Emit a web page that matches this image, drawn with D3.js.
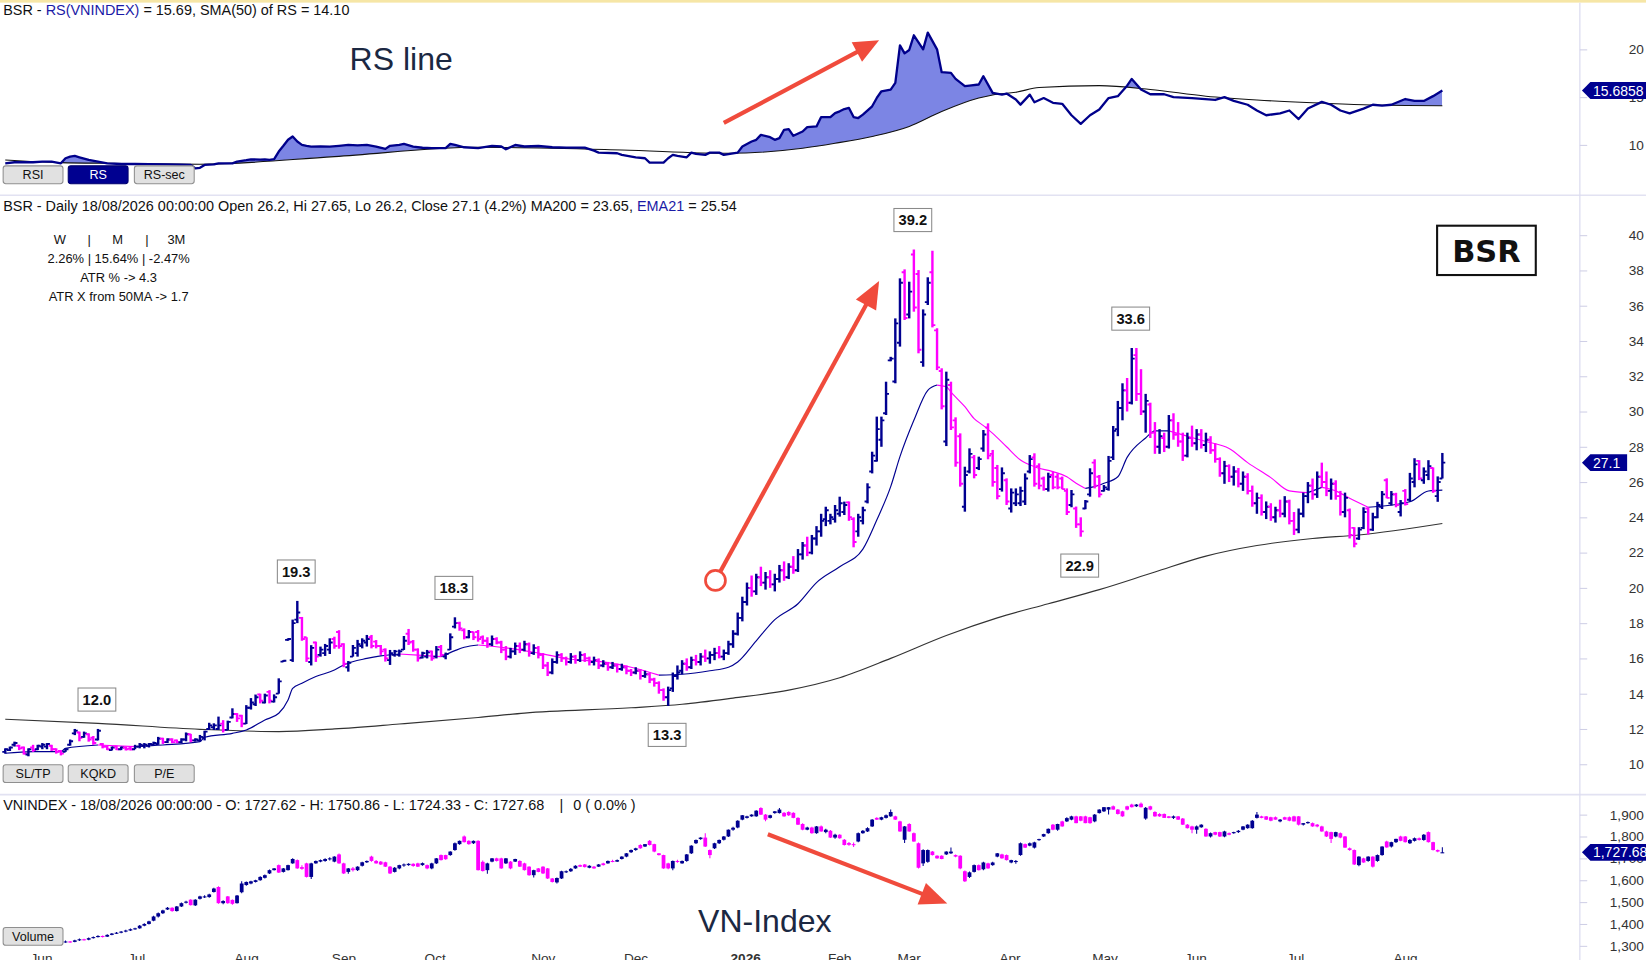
<!DOCTYPE html>
<html><head><meta charset="utf-8">
<script src="https://cdn.jsdelivr.net/npm/d3@7"></script>
<style>
html,body{margin:0;padding:0;background:#fff;overflow:hidden}
svg{display:block;font-family:"Liberation Sans",Arial,sans-serif}
</style></head><body>
<svg id="c" width="1646" height="960" viewBox="0 0 1568 914.5"></svg>
<script>
// ---------------- DATA ----------------
// BSR daily bars [open, high, low, close], 26/05/2025 .. 18/08/2026
const bsrBars = [
[10.7,10.9,10.6,10.85],[10.8,11.0,10.75,10.95],[11.1,11.28,11.0,11.2],[11.05,11.1,10.8,10.9],[10.95,11.0,10.55,10.6],
[10.55,10.9,10.45,10.85],[10.95,11.1,10.7,10.8],[10.85,11.1,10.8,11.05],[11.0,11.2,10.85,11.1],[11.0,11.2,10.85,11.15],
[11.05,11.1,10.75,10.85],[10.85,10.9,10.6,10.7],[10.75,10.8,10.5,10.6],[10.7,10.9,10.7,10.85],[11.1,11.4,11.05,11.3],
[11.75,12.0,11.65,11.9],[11.8,11.85,11.3,11.5],[11.55,11.85,11.5,11.75],[11.7,11.75,11.28,11.4],[11.5,11.6,11.1,11.2],
[11.4,12.0,11.35,11.9],[11.15,11.2,10.9,11.0],[11.0,11.05,10.8,10.85],[10.8,11.0,10.78,10.95],[11.0,11.05,10.8,10.85],
[10.85,11.0,10.8,10.95],[10.95,11.0,10.78,10.85],[10.9,11.0,10.78,10.85],[10.85,11.1,10.85,11.0],[11.0,11.2,10.9,11.1],
[11.05,11.2,10.9,11.1],[11.05,11.2,10.95,11.15],[11.1,11.28,11.05,11.2],[11.15,11.55,11.1,11.45],[11.45,11.5,11.15,11.25],
[11.25,11.47,11.2,11.4],[11.4,11.47,11.19,11.25],[11.35,11.4,11.19,11.25],[11.25,11.47,11.2,11.4],[11.4,11.8,11.3,11.7],
[11.7,11.72,11.25,11.35],[11.35,11.47,11.28,11.4],[11.35,11.66,11.28,11.55],[11.5,11.9,11.35,11.85],[12.0,12.35,11.95,12.2],
[12.1,12.32,11.94,12.2],[12.0,12.7,11.95,12.2],[12.3,12.5,11.8,11.95],[11.95,12.47,11.94,12.4],[12.65,13.17,12.6,12.85],
[12.85,12.9,12.4,12.6],[12.75,12.8,12.1,12.3],[12.3,13.35,12.28,13.2],[13.2,13.75,13.1,13.5],[13.4,13.95,13.3,13.8],
[13.95,14.0,13.45,13.6],[13.5,14.0,13.45,13.9],[14.1,14.2,13.45,13.6],[13.55,13.96,13.5,13.8],[14.0,14.87,14.0,14.7],
[15.82,15.9,15.8,15.87],[17.05,17.14,17.0,17.1],[15.9,18.2,15.8,18.0],[18.2,19.26,18.0,18.6],[18.3,18.35,17.0,17.1],
[17.2,17.2,15.8,16.0],[15.8,16.75,15.6,16.6],[16.9,16.95,15.8,16.1],[16.2,16.67,16.1,16.5],[16.3,16.82,16.14,16.7],
[16.5,17.14,16.25,16.9],[17.1,17.23,16.55,16.7],[17.5,17.6,16.55,16.7],[16.8,16.86,15.5,15.7],[15.5,15.85,15.25,15.75],
[16.1,16.76,16.1,16.6],[16.3,17.05,16.1,16.8],[16.7,17.14,16.57,17.0],[16.9,17.33,16.67,17.1],[17.2,17.33,16.57,16.7],
[16.95,17.04,16.57,16.7],[16.7,16.76,16.2,16.4],[16.5,16.57,15.82,16.0],[15.9,16.48,15.63,16.3],[16.2,16.48,16.1,16.4],
[16.2,16.5,16.1,16.4],[16.5,17.27,16.48,17.0],[17.4,17.67,16.76,16.9],[16.95,17.04,16.38,16.5],[16.5,16.57,15.82,16.0],
[16.05,16.38,16.0,16.3],[16.1,16.48,16.0,16.35],[16.4,16.44,15.87,16.0],[16.1,16.7,16.0,16.5],[16.65,16.76,16.1,16.2],
[16.1,16.33,15.95,16.25],[16.5,17.42,16.48,17.2],[17.8,18.33,17.7,18.0],[18.0,18.08,17.57,17.7],[17.6,17.7,17.08,17.2],
[17.2,17.61,17.14,17.5],[17.5,17.52,17.04,17.2],[17.5,17.61,16.95,17.1],
[17.2,17.3,16.8,17.0],[17.0,17.2,16.6,16.8],[16.8,17.3,16.7,17.1],[17.1,17.2,16.8,16.9],[16.9,17.0,16.3,16.5],
[16.5,16.7,15.9,16.1],[16.1,16.6,16.0,16.4],[16.4,16.9,16.2,16.7],[16.7,16.9,16.3,16.5],[16.5,17.0,16.4,16.8],
[16.8,16.9,16.1,16.3],[16.3,16.8,16.2,16.6],[16.6,16.7,16.0,16.2],[16.2,16.3,15.4,15.6],[15.6,15.8,15.0,15.2],
[15.2,16.0,15.1,15.8],[15.8,16.4,15.7,16.2],[16.2,16.3,15.8,16.0],[16.0,16.1,15.6,15.8],[15.8,16.3,15.7,16.1],
[16.1,16.2,15.7,15.9],[15.9,16.4,15.8,16.2],[16.2,16.3,15.8,16.0],[16.0,16.1,15.6,15.8],[15.8,16.1,15.6,15.9],
[15.9,16.0,15.4,15.6],[15.6,15.9,15.5,15.7],[15.7,15.8,15.3,15.5],[15.5,15.8,15.4,15.6],[15.6,15.7,15.2,15.4],
[15.4,15.7,15.3,15.5],[15.5,15.6,15.1,15.3],[15.3,15.4,15.0,15.2],[15.2,15.5,15.1,15.3],[15.3,15.4,14.8,15.0],
[15.0,15.3,14.9,15.1],[15.1,15.2,14.6,14.8],[14.8,14.9,14.4,14.6],[14.6,14.7,14.0,14.2],[14.2,14.3,13.6,13.8],
[13.8,14.4,13.3,14.2],
[14.3,15.2,14.1,15.0],[15.0,15.6,14.8,15.2],[15.3,15.9,15.1,15.7],[15.7,16.0,15.3,15.5],[15.5,16.1,15.4,15.9],
[15.9,16.2,15.6,15.8],[15.8,16.3,15.6,16.1],[16.1,16.5,15.8,16.0],[16.0,16.4,15.7,16.2],[16.2,16.6,15.9,16.3],
[16.3,16.7,16.0,16.1],[16.1,16.5,15.9,16.3],[16.3,17.0,16.2,16.8],[16.8,17.6,16.6,17.4],[17.4,18.6,17.3,18.3],
[18.3,19.5,18.1,19.2],[19.2,20.3,19.0,20.0],[20.0,20.7,19.5,19.8],[19.8,20.8,19.6,20.6],[20.6,21.2,20.1,20.3],
[20.3,20.9,19.9,20.6],[20.6,21.0,20.0,20.2],[20.2,20.8,19.8,20.5],[20.5,21.3,20.3,21.0],[21.0,21.5,20.4,20.6],
[20.6,21.4,20.5,21.2],[21.2,21.8,20.8,21.0],[21.0,22.2,20.9,21.9],[21.9,22.6,21.6,22.4],[22.4,22.9,21.8,22.0],
[22.0,23.0,21.9,22.8],[22.8,23.5,22.4,23.2],[23.2,24.2,22.9,23.8],
[23.9,24.6,23.5,24.4],[23.8,24.2,23.6,24.0],[23.9,24.7,23.7,24.4],[24.2,25.17,24.04,24.8],[24.3,24.89,24.13,24.7],
[24.85,24.9,23.8,24.0],[23.9,24.0,22.3,22.6],[23.2,24.2,22.9,24.0],[23.8,24.6,23.6,24.4],[24.9,25.93,24.79,25.7],
[26.6,27.72,26.49,27.5],[27.2,29.71,27.16,29.0],[28.4,29.71,28.0,29.5],[29.9,31.69,29.8,31.0],[32.9,33.1,32.85,33.0],
[31.7,35.28,31.6,35.0],[33.9,37.55,33.68,37.3],[37.9,38.06,35.19,35.3],[35.5,37.36,35.28,36.8],[38.9,39.19,35.66,35.9],
[37.8,38.02,33.3,33.5],[32.8,35.79,32.54,35.5],[36.2,37.61,36.04,37.3],[37.9,39.12,34.77,34.9],[34.6,34.72,32.35,32.5],
[32.3,32.45,30.12,30.3],[28.3,32.26,28.04,31.8],[31.5,31.69,28.95,29.1],[29.5,29.67,26.87,27.1],[28.6,28.76,25.74,25.9],
[24.6,26.87,24.32,26.4],[26.6,27.91,26.49,27.6],[27.4,27.53,26.21,26.4],[26.8,27.44,26.68,27.3],[27.9,28.95,27.72,28.7],
[29.1,29.33,27.29,27.5],[27.6,27.82,25.74,26.0],[26.8,26.97,25.02,25.2],[25.6,26.83,25.46,26.5],[26.1,26.21,24.7,24.9],
[24.5,25.64,24.27,25.4],[24.8,25.64,24.64,25.3],[24.8,25.74,24.64,25.5],[24.9,26.49,24.7,26.2],[26.6,27.53,26.49,27.3],
[27.4,27.63,25.74,25.9],[26.9,27.06,25.59,25.8],[26.2,26.31,25.51,25.6],[25.6,26.53,25.46,26.3],[26.4,26.59,25.59,25.7],
[26.3,26.49,25.59,25.7],[26.2,26.31,25.59,25.6],[25.5,25.64,24.13,24.3],[24.7,25.55,24.57,25.3],[24.5,24.61,23.4,23.6],
[23.6,24.0,22.9,23.2],[24.5,24.98,24.46,24.9],[25.3,26.78,25.17,26.5],[27.1,27.29,25.64,25.8],[26.3,26.4,25.13,25.3],
[25.5,25.83,25.46,25.7],[25.6,27.48,25.51,27.2],[27.4,29.18,27.25,28.9],
[29.0,30.6,28.6,30.2],[30.2,31.6,29.5,31.2],[31.2,31.9,30.0,30.5],[30.5,33.6,30.4,33.0],[33.2,33.6,30.6,31.0],
[31.0,32.4,29.8,30.0],[30.0,31.0,28.8,30.6],[30.4,30.5,28.5,28.8],[28.8,29.4,27.6,28.0],[28.0,29.0,27.6,28.6],
[28.5,28.8,27.7,28.0],[28.0,29.8,27.9,29.5],[29.5,29.9,28.4,28.7],[28.7,29.4,28.0,28.3],[28.3,28.8,27.2,27.5],
[27.5,28.8,27.4,28.5],[28.5,29.2,28.0,28.2],[28.2,29.0,27.8,28.7],[28.7,29.0,27.9,28.1],[28.1,28.8,27.7,28.4],
[28.4,28.6,27.6,27.8],[27.8,28.2,27.1,27.3],[27.3,27.4,26.3,26.5],[26.5,27.2,25.9,26.9],[26.9,27.0,26.0,26.3],
[26.3,26.9,25.8,26.6],[26.6,26.8,25.7,25.9],[25.9,26.6,25.5,26.3],[26.3,26.5,25.3,25.5],[25.5,25.8,24.6,24.8],
[24.8,25.4,24.2,25.1],[25.1,25.3,24.1,24.3],[24.3,24.9,23.9,24.6],[24.6,24.8,23.8,24.0],[24.0,24.6,23.7,24.4],
[24.4,25.0,24.0,24.2],[24.2,25.2,24.0,24.9],[24.9,25.0,23.6,23.8],[23.8,24.3,23.0,23.3],[23.3,24.5,23.1,24.2],
[24.2,25.4,24.0,25.2],[25.2,26.0,24.8,25.8],[25.8,26.2,25.0,25.3],[25.3,26.6,25.1,26.3],[26.3,27.1,25.7,26.0],
[26.0,26.6,25.2,25.5],[25.5,26.2,25.0,25.9],[25.9,26.1,25.0,25.2],[25.2,25.5,24.1,24.3],[24.3,25.4,24.0,25.1],
[24.4,24.5,22.8,23.0],[23.4,23.44,22.3,22.5],[22.8,23.44,22.72,23.3],[23.4,24.57,23.33,24.3],[24.5,24.57,23.02,23.3],
[23.3,24.26,23.23,24.0],[24.0,24.88,23.95,24.7],[24.6,25.49,24.47,25.3],[26.1,26.21,25.08,25.1],[24.8,25.49,24.67,25.3],
[25.3,25.39,24.57,24.7],[24.3,24.98,24.05,24.8],[25.5,25.6,24.67,24.75],[25.0,26.52,24.88,26.2],[26.0,27.35,25.7,27.0],
[27.2,27.24,26.11,26.2],[26.1,26.83,25.9,26.6],[26.4,27.24,26.11,26.9],[26.8,26.83,25.39,25.5],[25.2,26.32,24.88,26.0],
[26.2,27.65,26.2,27.1]
];
// VNINDEX daily candles [open, high, low, close]
const vniBars = [
[1310,1318,1305,1312],[1312,1322,1310,1318],[1318,1320,1310,1315],[1315,1324,1313,1320],[1320,1322,1312,1316],
[1316,1325,1314,1322],[1322,1324,1315,1318],[1318,1328,1316,1325],[1325,1327,1317,1320],[1320,1322,1312,1315],
[1315,1317,1306,1310],[1310,1316,1307,1312],[1312,1320,1310,1316],[1316,1324,1314,1320],[1320,1322,1314,1318],
[1318,1328,1316,1325],[1325,1333,1322,1330],[1330,1332,1324,1328],[1328,1338,1326,1335],[1335,1343,1333,1340],
[1340,1348,1338,1345],[1345,1347,1338,1342],[1342,1353,1340,1350],[1350,1359,1348,1356],[1356,1363,1354,1360],
[1360,1368,1357,1365],[1365,1373,1362,1370],[1370,1379,1368,1376],[1376,1383,1373,1380],[1380,1395,1378,1392],
[1392,1403,1390,1400],[1400,1415,1398,1412],
[1415,1438,1412,1434],[1434,1452,1430,1449],[1449,1465,1445,1462],[1466,1478,1464,1474],[1474,1476,1456,1459],
[1459,1482,1457,1480],[1480,1498,1478,1495],[1497,1506,1494,1502],[1511,1513,1484,1486],[1485,1513,1482,1511],
[1515,1529,1512,1526],[1522,1531,1519,1526],[1523,1538,1520,1535],[1546,1566,1544,1562],[1569,1572,1492,1495],
[1495,1508,1490,1505],[1526,1528,1492,1495],[1510,1512,1488,1492],[1495,1532,1493,1530],[1545,1595,1540,1585],
[1578,1594,1575,1592],[1585,1598,1582,1595],[1592,1602,1590,1600],[1600,1618,1598,1615],[1611,1626,1608,1623],
[1631,1649,1628,1646],[1646,1656,1644,1654],[1669,1672,1633,1635],[1638,1656,1635,1654],[1646,1671,1644,1669],
[1677,1700,1675,1697],[1692,1695,1652,1654],[1660,1668,1648,1652],[1677,1680,1612,1615],[1615,1680,1605,1677],
[1677,1690,1675,1688],[1685,1695,1682,1692],[1688,1700,1685,1697],[1697,1705,1690,1700],[1685,1710,1682,1708],
[1718,1722,1675,1677],[1677,1680,1628,1631],[1638,1656,1630,1654],[1654,1660,1640,1646],[1646,1664,1642,1662],
[1666,1684,1663,1682],[1682,1690,1679,1688],[1708,1712,1685,1688],[1688,1692,1675,1677],[1685,1688,1670,1672],
[1682,1685,1660,1662],[1662,1665,1628,1631],[1638,1660,1635,1657],[1654,1671,1650,1669],[1669,1676,1662,1672],
[1669,1678,1666,1675],[1675,1678,1662,1665],[1677,1680,1660,1662],[1669,1681,1666,1678],[1669,1672,1650,1654],
[1654,1680,1650,1677],[1677,1702,1674,1700],[1715,1718,1690,1692],[1715,1717,1694,1696],[1715,1733,1712,1731],
[1738,1772,1735,1769],[1765,1782,1762,1780],[1800,1805,1772,1774],[1780,1783,1762,1765],[1769,1782,1766,1780],
[1780,1783,1644,1646],[1684,1690,1640,1642],[1646,1680,1630,1677],[1685,1702,1682,1700],[1700,1703,1686,1688],
[1700,1703,1652,1654],[1677,1702,1674,1700],[1685,1688,1650,1654],[1685,1698,1683,1697],[1688,1691,1660,1662],
[1677,1680,1644,1646],[1662,1664,1620,1623],[1623,1648,1612,1646],[1654,1656,1636,1638],[1662,1664,1628,1631],
[1654,1656,1605,1608],[1608,1610,1590,1592],[1590,1612,1585,1610],[1608,1643,1605,1641],[1636,1644,1633,1641],
[1641,1656,1638,1652],[1654,1668,1652,1666],[1669,1672,1660,1662],[1672,1674,1658,1660],[1657,1668,1655,1666],
[1662,1665,1652,1654],[1662,1674,1660,1672],[1677,1680,1667,1669],[1677,1690,1675,1688],[1688,1694,1682,1686],
[1685,1695,1683,1692],[1697,1710,1695,1708],[1708,1725,1705,1723],[1728,1740,1725,1738],[1738,1748,1735,1746],
[1761,1764,1744,1746],[1754,1766,1752,1765],[1780,1784,1759,1761],[1765,1767,1728,1731],[1723,1725,1713,1715],
[1715,1717,1652,1654],[1677,1680,1650,1654],[1654,1690,1645,1688],[1688,1694,1680,1684],[1677,1690,1675,1688],
[1688,1720,1685,1718],[1723,1760,1720,1758],[1769,1786,1766,1784],[1788,1797,1785,1795],[1795,1815,1752,1754],
[1738,1741,1700,1715],[1746,1771,1743,1769],[1769,1786,1766,1784],[1785,1802,1782,1800],[1800,1832,1798,1831],
[1831,1845,1826,1840],[1841,1874,1838,1872],[1877,1898,1874,1897],[1885,1895,1882,1892],[1892,1902,1890,1900],
[1892,1920,1890,1918],[1930,1934,1898,1900],[1900,1903,1870,1877],[1885,1899,1882,1897],[1907,1917,1904,1915],
[1907,1930,1905,1923],[1908,1912,1890,1892],[1912,1915,1894,1897],[1908,1911,1883,1885],[1885,1888,1852,1854],
[1857,1860,1829,1831],[1831,1845,1828,1841],[1841,1844,1813,1815],[1815,1848,1812,1846],
[1846,1850,1822,1823],[1820,1835,1815,1831],[1826,1830,1793,1795],[1795,1812,1790,1808],[1808,1810,1790,1792],
[1785,1788,1759,1761],[1770,1775,1758,1762],[1765,1772,1752,1760],[1777,1818,1774,1815],[1815,1830,1812,1826],
[1823,1842,1820,1838],[1846,1880,1843,1877],[1885,1888,1875,1877],[1877,1890,1874,1888],[1885,1900,1882,1897],
[1892,1923,1890,1912],[1892,1895,1875,1877],[1869,1872,1822,1823],[1785,1848,1770,1846],[1857,1860,1822,1823],
[1815,1818,1776,1777],[1769,1772,1654,1657],[1677,1742,1665,1738],[1684,1740,1680,1738],[1731,1734,1713,1715],
[1712,1714,1698,1700],[1712,1714,1696,1697],[1718,1732,1715,1731],[1723,1750,1720,1731],[1715,1718,1705,1708],
[1712,1714,1650,1654],[1641,1644,1592,1595],[1615,1640,1610,1636],[1638,1672,1635,1669],[1669,1672,1644,1646],
[1650,1684,1646,1681],[1677,1680,1652,1654],[1669,1684,1666,1681],[1708,1725,1705,1723],[1718,1721,1698,1700],
[1715,1718,1690,1692],[1681,1694,1678,1692],[1683,1692,1675,1688],[1715,1772,1712,1769],[1765,1768,1747,1749],
[1758,1772,1755,1769],[1749,1776,1745,1773],[1784,1790,1780,1788],[1800,1812,1798,1811],[1815,1836,1812,1835],
[1854,1857,1828,1831],[1831,1858,1826,1857],[1869,1872,1845,1846],[1869,1888,1866,1884],[1877,1895,1874,1892],
[1892,1895,1860,1861],[1892,1894,1870,1872],[1892,1895,1860,1861],[1888,1890,1858,1861],[1869,1903,1865,1900],
[1907,1925,1905,1923],[1915,1935,1912,1934],[1923,1935,1900,1934],[1938,1942,1922,1923],[1923,1926,1901,1903],
[1915,1918,1890,1892],[1938,1940,1920,1923],[1946,1950,1933,1934],[1938,1948,1935,1946],[1950,1955,1933,1934],
[1882,1935,1876,1931],[1938,1940,1920,1923],[1912,1915,1890,1892],[1903,1906,1890,1892],[1903,1905,1884,1885],
[1892,1894,1883,1885],[1885,1896,1880,1892],[1892,1894,1875,1877],[1882,1885,1852,1854],[1854,1857,1836,1838],
[1846,1849,1815,1831],[1831,1850,1812,1846],[1842,1856,1840,1854],[1835,1838,1799,1800],[1800,1818,1795,1815],
[1820,1822,1806,1808],[1820,1822,1798,1800],[1800,1826,1796,1823],[1815,1818,1806,1808],[1815,1822,1812,1820],
[1820,1830,1816,1826],[1831,1848,1828,1846],[1838,1856,1835,1854],[1838,1875,1835,1872],[1885,1912,1882,1900],
[1892,1895,1883,1885],[1892,1894,1875,1877],[1888,1890,1870,1872],[1888,1891,1876,1877],[1869,1880,1865,1877],
[1888,1890,1876,1877],[1888,1891,1870,1872],[1892,1895,1868,1869],[1892,1894,1850,1854],[1854,1862,1850,1861],
[1861,1868,1858,1866],[1861,1864,1845,1846],[1854,1857,1842,1846],[1846,1849,1822,1823],[1823,1826,1798,1800],
[1820,1822,1770,1789],[1800,1822,1796,1820],[1815,1818,1792,1795],[1800,1802,1748,1749],[1746,1750,1735,1738],
[1738,1740,1670,1672],[1669,1710,1664,1708],[1700,1703,1680,1681],[1688,1710,1685,1708],[1708,1710,1658,1662],
[1688,1718,1684,1715],[1715,1755,1712,1754],[1777,1780,1748,1750],[1754,1776,1750,1774],[1774,1790,1770,1789],
[1800,1803,1778,1780],[1800,1802,1772,1774],[1769,1788,1766,1784],[1780,1795,1777,1792],[1792,1795,1782,1784],
[1784,1811,1780,1808],[1820,1823,1772,1774],[1774,1776,1736,1738],[1738,1740,1728,1731],[1727.62,1750.86,1724.33,1727.68]
];
// RS(VNINDEX) line, read at bar indices
const rsIdx = [0,2,4,6,8,10,12,13,14,15,16,18,20,22,25,28,31,35,38,40,41,42,43,45,46,49,50,52,53,55,56,57,58,59,60,61,62,63,64,65,66,68,70,72,74,76,78,80,82,83,85,86,88,90,92,95,96,97,99,102,105,107,108,110,112,115,118,121,125,127,128,132,133,136,138,139,141,142,143,144,145,147,148,149,151,152,154,155,158,159,161,162,163,165,166,167,168,169,170,172,173,175,176,178,179,180,181,182,183,184,185,187,188,189,191,192,193,194,195,196,198,199,201,202,204,205,207,208,210,211,213,215,216,218,219,221,222,224,226,228,230,232,234,236,238,240,242,243,245,247,250,252,256,261,263,265,268,270,272,275,277,279,281,284,286,288,290,293,295,297,299,302,304,306,308,310];
const rsVal = [8.07,8.18,8.2,8.18,8.25,8.25,8.07,8.6,8.77,8.84,8.7,8.42,8.25,8.07,8.0,8.02,7.98,7.95,7.92,7.9,7.54,7.6,7.9,7.95,8.07,8.07,8.25,8.4,8.49,8.45,8.49,8.42,8.5,9.3,9.9,10.53,10.88,10.35,10.0,9.9,9.82,9.85,9.82,9.9,10.0,9.95,10.0,9.82,9.58,9.9,10.0,10.1,9.82,9.7,9.65,9.65,10.1,10.0,9.75,9.65,9.89,9.83,9.54,9.99,9.83,9.89,9.75,9.72,9.72,9.4,9.19,9.12,8.95,8.7,8.6,8.14,8.14,8.14,8.6,8.95,8.84,8.7,9.19,9.05,8.95,9.19,9.19,8.95,9.19,9.83,10.35,10.53,11.05,10.8,10.53,10.7,11.58,11.65,10.95,11.4,11.86,11.93,12.91,12.91,13.33,13.51,13.75,13.86,12.91,12.81,13.16,14.04,14.91,15.61,15.79,16.49,20.42,19.58,19.93,21.47,20.0,21.75,20.0,17.61,17.54,16.91,16.14,16.21,16.32,17.19,15.44,15.26,15.37,14.74,14.21,15.26,14.46,14.9,14.4,14.3,13.1,12.2,13.1,13.7,14.9,15.1,16.2,16.9,15.8,15.3,15.3,15.0,14.9,14.7,15.0,14.6,14.2,13.6,13.1,13.3,13.6,12.7,13.8,14.5,14.2,13.6,13.3,13.8,14.2,14.1,14.2,14.8,14.6,14.6,15.1,15.69];
// SMA(50) of RS
const smaIdx = [0,12,23,42,71,102,133,156,172,179,187,195,202,210,213,218,223,236,247,259,270,282,293,310];
const smaVal = [8.42,8.14,8.07,7.97,8.77,9.75,9.47,9.12,9.65,10.17,10.88,11.93,13.5,14.91,15.23,15.51,16.0,16.2,15.8,15.1,14.7,14.4,14.2,14.1];
// EMA21 of BSR
const emaIdx = [0,6,12,13,20,28,34,42,43,49,52,56,59,61,62,64,67,71,73,78,81,85,89,94,97,99,102,108,115,122,129,135,141,146,152,156,158,162,166,171,175,180,185,188,191,193,196,199,201,203,204,207,209,211,213,216,219,222,226,229,231,233,235,237,240,242,246,248,251,255,259,264,268,273,277,281,284,287,290,294,303,307,310];
const emaVal = [10.62,10.71,10.71,10.9,11.09,11.0,11.09,11.28,11.53,11.75,11.94,12.51,12.89,13.64,14.3,14.59,14.97,15.34,15.63,16.0,16.14,16.25,16.19,16.1,16.44,16.63,16.76,16.6,16.3,15.95,15.8,15.5,15.05,15.1,15.3,15.5,15.8,17.0,18.2,19.1,20.3,21.2,22.2,23.85,25.74,27.44,29.5,31.2,31.5,31.4,31.1,30.27,29.6,29.2,28.76,28.0,27.25,26.87,26.59,26.3,25.93,25.64,25.74,25.93,26.3,27.4,28.5,28.9,28.9,28.6,28.3,27.9,27.1,26.25,25.5,25.4,25.7,25.5,25.08,24.57,24.88,25.49,25.54];
// MA200 of BSR
const ma200Idx = [0,20,42,59,71,85,102,112,135,146,157,169,180,191,203,214,225,236,248,259,270,282,292,310];
const ma200Val = [12.55,12.32,11.98,11.85,12.0,12.28,12.65,12.9,13.2,13.4,13.75,14.2,14.9,16.0,17.3,18.3,19.1,19.9,20.9,21.8,22.4,22.8,23.0,23.65];
// time axis
const monthLabels = ['Jun','Jul','Aug','Sep','Oct','Nov','Dec','2026','Feb','Mar','Apr','May','Jun','Jul','Aug'];
const monthStart = [5,26,49,70,90,113,133,156,177,192,214,234,254,276,299];
// value axes
const rsTicks = [10,15,20];
const mainTicks = [10,12,14,16,18,20,22,24,26,28,30,32,34,36,38,40];
const vniTicks = [1300,1400,1500,1600,1700,1800,1900];
// swing high/low call-outs
const hlIdx = [20,63,97,143,196,232,243];
const hlType = ['h','h','h','l','h','l','h'];
// annotation anchors [barIndex, value]
const rsArrow = [[155,12.3],[188.5,20.95]];
const mainArrow = [[153.2,20.42],[188.5,37.4]];
const vniArrow = [[164.5,1810],[203.2,1493]];

// ---------------- DRAW ----------------
const NAVY = '#000090', MAG = '#ff00ff', RED = '#f04b3c';
const svg = d3.select('#c');
const W = 1568, H = 914.5, AX = 1505;
const N = bsrBars.length;
const x = d3.scaleLinear().domain([0, N - 1]).range([5, 1374]);
const yRS = d3.scaleLinear().domain([10, 20]).range([138, 47]);
const yMain = d3.scaleLinear().domain([10, 40]).range([728, 224]);
const yVni = d3.scaleLinear().domain([1300, 1900]).range([901, 776]);

svg.append('rect').attr('width', W).attr('height', H).attr('fill', '#fff');
const defs = svg.append('defs');
function clip(id, y0, y1) {
  defs.append('clipPath').attr('id', id).append('rect').attr('x', 0).attr('y', y0).attr('width', AX).attr('height', y1 - y0);
}
clip('cRS', 3, 186); clip('cMain', 187, 757); clip('cVni', 758, H);

// frame
svg.append('rect').attr('width', W).attr('height', 2.5).attr('fill', '#f6e6a6');
[186, 757].forEach(yy => svg.append('line').attr('x1', 0).attr('x2', W).attr('y1', yy).attr('y2', yy).attr('stroke', '#e2e2f2').attr('stroke-width', 1.5));
svg.append('line').attr('x1', AX).attr('x2', AX).attr('y1', 2.5).attr('y2', H).attr('stroke', '#dcdcf0').attr('stroke-width', 1.2);

// axes
function drawAxis(scale, ticks, fmt) {
  const g = svg.append('g').attr('transform', `translate(${AX},0)`)
    .call(d3.axisRight(scale).tickValues(ticks).tickSize(7).tickFormat(fmt));
  g.select('.domain').remove();
  g.selectAll('.tick line').attr('stroke', '#cfcfe6');
  g.selectAll('.tick text').attr('x', 61).attr('text-anchor', 'end').attr('fill', '#333')
    .style('font-size', '13px').style('font-family', '"Liberation Sans",Arial,sans-serif');
}
drawAxis(yRS, rsTicks, d3.format('d'));
drawAxis(yMain, mainTicks, d3.format('d'));
drawAxis(yVni, vniTicks, d3.format(','));

// ---- RS panel
const gRS = svg.append('g').attr('clip-path', 'url(#cRS)');
const smaPts = smaIdx.map((d, k) => [x(d), yRS(smaVal[k])]);
const rsPts = rsIdx.map((d, k) => [x(d), yRS(rsVal[k])]);
defs.append('clipPath').attr('id', 'cAbove').append('path')
  .attr('d', d3.area().x(d => d[0]).y0(0).y1(d => d[1]).curve(d3.curveMonotoneX)(smaPts));
gRS.append('g').attr('clip-path', 'url(#cAbove)').append('path')
  .attr('d', d3.area().x(d => d[0]).y0(186).y1(d => d[1])(rsPts)).attr('fill', '#7c85e4');
gRS.append('path').attr('d', d3.line().curve(d3.curveMonotoneX)(smaPts)).attr('fill', 'none').attr('stroke', '#111').attr('stroke-width', 1);
gRS.append('path').attr('d', d3.line()(rsPts)).attr('fill', 'none').attr('stroke', '#00008b').attr('stroke-width', 2.2).attr('stroke-linejoin', 'round');

// ---- main panel
const gM = svg.append('g').attr('clip-path', 'url(#cMain)');
gM.append('path').attr('d', d3.line().curve(d3.curveMonotoneX)(ma200Idx.map((d, k) => [x(d), yMain(ma200Val[k])])))
  .attr('fill', 'none').attr('stroke', '#333').attr('stroke-width', 1.1);
function runs(idx, val) {
  const pts = idx.map((d, k) => [d, val[k]]);
  const out = []; let cur = [pts[0]]; let dir = null;
  for (let k = 1; k < pts.length; k++) {
    const dd = pts[k][1] >= pts[k - 1][1] ? 'up' : 'down';
    if (dir === null || dd === dir) { cur.push(pts[k]); dir = dd; }
    else { out.push({ dir, pts: cur }); cur = [pts[k - 1], pts[k]]; dir = dd; }
  }
  out.push({ dir, pts: cur });
  return out;
}
const emaLine = d3.line().x(d => x(d[0])).y(d => yMain(d[1])).curve(d3.curveMonotoneX);
gM.selectAll('path.ema').data(runs(emaIdx, emaVal)).join('path').attr('class', 'ema')
  .attr('d', d => emaLine(d.pts)).attr('fill', 'none').attr('stroke', d => d.dir === 'up' ? NAVY : MAG).attr('stroke-width', 1.1);
const col = d => d[3] >= d[0] ? NAVY : MAG;
gM.selectAll('path.bar').data(bsrBars).join('path').attr('class', 'bar')
  .attr('d', (d, i) => `M${x(i)},${yMain(d[1])}V${yMain(d[2])}`).attr('stroke', col).attr('stroke-width', 2.3);
gM.selectAll('path.tk').data(bsrBars).join('path').attr('class', 'tk')
  .attr('d', (d, i) => `M${x(i) - 2.8},${yMain(d[0])}H${x(i)}M${x(i)},${yMain(d[3])}H${x(i) + 2.8}`)
  .attr('stroke', col).attr('stroke-width', 1.8).attr('fill', 'none');

// ---- VNINDEX panel
const gV = svg.append('g').attr('clip-path', 'url(#cVni)');
gV.selectAll('line.wk').data(vniBars).join('line').attr('class', 'wk')
  .attr('x1', (d, i) => x(i)).attr('x2', (d, i) => x(i)).attr('y1', d => yVni(d[1])).attr('y2', d => yVni(d[2]))
  .attr('stroke', col).attr('stroke-width', 1);
gV.selectAll('rect.bd').data(vniBars).join('rect').attr('class', 'bd')
  .attr('x', (d, i) => x(i) - 1.8).attr('width', 3.6)
  .attr('y', d => yVni(Math.max(d[0], d[3])))
  .attr('height', d => Math.max(1, Math.abs(yVni(d[0]) - yVni(d[3])))).attr('fill', col);

// ---- texts
const T = (t, xx, yy, o = {}) => svg.append('text').attr('x', xx).attr('y', yy).text(t)
  .style('font-size', (o.fs || 13.75) + 'px').attr('fill', o.fill || '#111')
  .attr('text-anchor', o.anchor || 'start').attr('font-weight', o.fw || 'normal');
const h1 = svg.append('text').attr('x', 3).attr('y', 14.5).style('font-size', '13.75px').attr('fill', '#111');
h1.append('tspan').text('BSR - ');
h1.append('tspan').text('RS(VNINDEX)').attr('fill', '#1a1aa6');
h1.append('tspan').text(' = 15.69, SMA(50) of RS = 14.10');
const h2 = svg.append('text').attr('x', 3).attr('y', 201).style('font-size', '13.75px').attr('fill', '#111');
h2.append('tspan').text('BSR - Daily 18/08/2026 00:00:00 Open 26.2, Hi 27.65, Lo 26.2, Close 27.1 (4.2%) MA200 = 23.65, ');
h2.append('tspan').text('EMA21').attr('fill', '#1a1aa6');
h2.append('tspan').text(' = 25.54');
T('VNINDEX - 18/08/2026 00:00:00 - O: 1727.62 - H: 1750.86 - L: 1724.33 - C: 1727.68', 3, 772);
T('|', 533, 772); T('0 ( 0.0% )', 546, 772);
// stats block
[['W', 57], ['|', 85], ['M', 112], ['|', 140], ['3M', 168]].forEach(p => T(p[0], p[1], 232.5, { fs: 12.3, anchor: 'middle' }));
T('2.26%  | 15.64% | -2.47%', 113, 250.5, { fs: 12.3, anchor: 'middle' });
T('ATR % -> 4.3', 113, 268.5, { fs: 12.3, anchor: 'middle' });
T('ATR X from 50MA -> 1.7', 113, 286.5, { fs: 12.3, anchor: 'middle' });
// big annotation words
T('RS line', 333, 67, { fs: 30.5, fill: '#1b2842' });
T('VN-Index', 665, 888, { fs: 30.5, fill: '#1b2842' });
// BSR box
svg.append('rect').attr('x', 1369).attr('y', 215).attr('width', 94).attr('height', 47).attr('fill', '#fff').attr('stroke', '#111').attr('stroke-width', 2);
svg.append('text').attr('x', 1416).attr('y', 250).attr('text-anchor', 'middle').text('BSR')
  .style('font-family', '"DejaVu Sans",Verdana,sans-serif').style('font-size', '29px').attr('font-weight', 'bold').attr('fill', '#111');

// swing labels
hlIdx.forEach((bi, k) => {
  const b = bsrBars[bi];
  const v = hlType[k] === 'h' ? b[1] : b[2];
  const cy = hlType[k] === 'h' ? yMain(v) - 28 : yMain(v) + 27.5;
  const cx = x(bi) - 1;
  svg.append('rect').attr('x', cx - 18).attr('y', cy - 11).attr('width', 36).attr('height', 22)
    .attr('fill', '#fff').attr('stroke', '#8a8a8a').attr('stroke-width', 1);
  svg.append('text').attr('x', cx).attr('y', cy + 5).attr('text-anchor', 'middle').text(d3.format('.1f')(v))
    .style('font-size', '14px').attr('font-weight', 'bold').attr('fill', '#111');
});

// arrows
function arrow(x1, y1, x2, y2, w, hl, hw) {
  const L = Math.hypot(x2 - x1, y2 - y1), ux = (x2 - x1) / L, uy = (y2 - y1) / L;
  const bx = x2 - ux * hl, by = y2 - uy * hl;
  svg.append('line').attr('x1', x1).attr('y1', y1).attr('x2', bx + ux * 3).attr('y2', by + uy * 3)
    .attr('stroke', RED).attr('stroke-width', w);
  svg.append('path').attr('d', `M${x2},${y2}L${bx - uy * hw / 2},${by + ux * hw / 2}L${bx + uy * hw / 2},${by - ux * hw / 2}Z`).attr('fill', RED);
}
arrow(x(rsArrow[0][0]), yRS(rsArrow[0][1]), x(rsArrow[1][0]), yRS(rsArrow[1][1]), 4, 24, 21);
{
  const cx = x(mainArrow[0][0]), cy = yMain(mainArrow[0][1]);
  const tx = x(mainArrow[1][0]), ty = yMain(mainArrow[1][1]);
  const L = Math.hypot(tx - cx, ty - cy);
  svg.append('circle').attr('cx', cx).attr('cy', cy).attr('r', 9.5).attr('fill', 'none').attr('stroke', RED).attr('stroke-width', 2.6);
  arrow(cx + (tx - cx) / L * 10, cy + (ty - cy) / L * 10, tx, ty, 4, 26, 22);
}
arrow(x(vniArrow[0][0]), yVni(vniArrow[0][1]), x(vniArrow[1][0]), yVni(vniArrow[1][1]), 4, 26, 22);

// buttons
function btn(label, bx, by, active) {
  svg.append('rect').attr('x', bx).attr('y', by).attr('width', 57).attr('height', 17).attr('rx', 2.5)
    .attr('fill', active ? '#000090' : '#e1e1e1').attr('stroke', active ? '#000070' : '#8f8f8f').attr('stroke-width', 1);
  svg.append('text').attr('x', bx + 28.5).attr('y', by + 12.7).attr('text-anchor', 'middle').text(label)
    .style('font-size', '12px').attr('fill', active ? '#fff' : '#111');
}
btn('RSI', 3, 158, false); btn('RS', 65, 158, true); btn('RS-sec', 128, 158, false);
btn('SL/TP', 3, 728.5, false); btn('KQKD', 65, 728.5, false); btn('P/E', 128, 728.5, false);
btn('Volume', 3, 883.5, false);

// value tags
function tag(yy, label, w) {
  svg.append('path').attr('d', `M1507,${yy}L1515,${yy - 8}H${1515 + w}V${yy + 8}H1515Z`).attr('fill', '#000090');
  svg.append('text').attr('x', 1517.5).attr('y', yy + 4.8).text(label).style('font-size', '13.3px').attr('fill', '#fff');
}
tag(yRS(rsVal[rsVal.length - 1]), '15.6858', 60);
tag(yMain(bsrBars[N - 1][3]), '27.1', 35);
tag(yVni(vniBars[vniBars.length - 1][3]), '1,727.68', 60);

// month labels
monthLabels.forEach((m, k) => {
  svg.append('text').attr('x', x(monthStart[k]) + 2).attr('y', 917).text(m)
    .style('font-size', '13px').attr('fill', '#333').attr('font-weight', m === '2026' ? 'bold' : 'normal');
});
</script>
</body></html>
